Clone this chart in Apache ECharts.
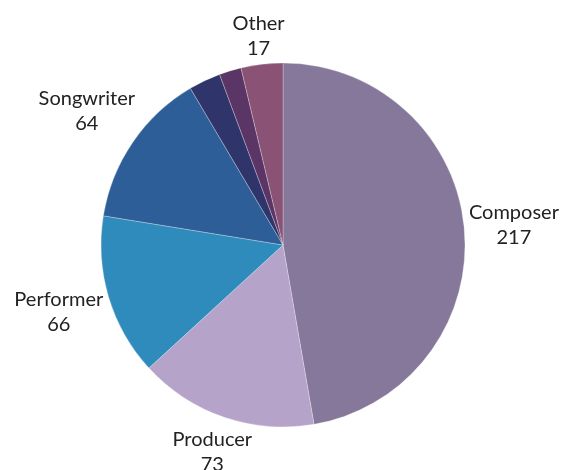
<!DOCTYPE html>
<html>
<head>
<meta charset="utf-8">
<style>
  html, body { margin: 0; padding: 0; background: #ffffff; }
  #chart { width: 566px; height: 470px; }
</style>
<script src="https://cdn.jsdelivr.net/npm/echarts@6/dist/echarts.min.js"></script>
</head>
<body>
<div id="chart"></div>
<script>
// Roles, in clockwise order from 12 o'clock
const roles = ['Composer', 'Producer', 'Performer', 'Songwriter', 'Arranger', 'Engineer', 'Other'];
const counts = [217, 73, 66, 64, 13, 9, 17];
const colors = ['#85789b', '#b5a3c9', '#2e8bbb', '#2e5e98', '#2f356b', '#5b3566', '#8a5274'];
const labelled = [true, true, true, true, false, false, true];

const CX = 283, CY = 245, R = 182, GAP = 3;
const FONT_SIZE = 20, LINE_HEIGHT = 25;
const total = counts.reduce((a, b) => a + b, 0);

// mid-angle of each slice, radians clockwise from 12 o'clock
const midAngles = [];
let acc = 0;
counts.forEach(v => {
  midAngles.push(((acc + v / 2) / total) * 2 * Math.PI);
  acc += v;
});

const chart = echarts.init(document.getElementById('chart'), null, { renderer: 'canvas' });

chart.setOption({
  animation: false,
  backgroundColor: '#ffffff',
  series: [{
    type: 'pie',
    center: [CX, CY],
    radius: [0, R],
    startAngle: 90,
    clockwise: true,
    avoidLabelOverlap: false,
    data: roles.map((name, i) => ({
      name,
      value: counts[i],
      itemStyle: { color: colors[i] },
      label: { show: labelled[i] }
    })),
    itemStyle: {
      borderColor: 'rgba(255,255,255,0.45)',
      borderWidth: 0.6
    },
    label: {
      position: 'outside',
      formatter: '{b}\n{c}',
      fontFamily: 'Lato',
      fontSize: FONT_SIZE,
      lineHeight: LINE_HEIGHT,
      color: '#222222'
    },
    labelLine: { show: false },
    // centre each label on its slice's bisector, just clear of the rim
    labelLayout: function (p) {
      const a = midAngles[p.dataIndex];
      const dx = Math.sin(a), dy = -Math.cos(a);
      const hw = p.labelRect.width / 2;
      const hh = (p.labelRect.height - (LINE_HEIGHT - FONT_SIZE)) / 2;
      const d = R + GAP + hw * Math.abs(dx) + hh * Math.abs(dy);
      return {
        x: CX + d * dx,
        y: CY + d * dy,
        align: 'center',
        verticalAlign: 'middle'
      };
    }
  }]
});
</script>
</body>
</html>
